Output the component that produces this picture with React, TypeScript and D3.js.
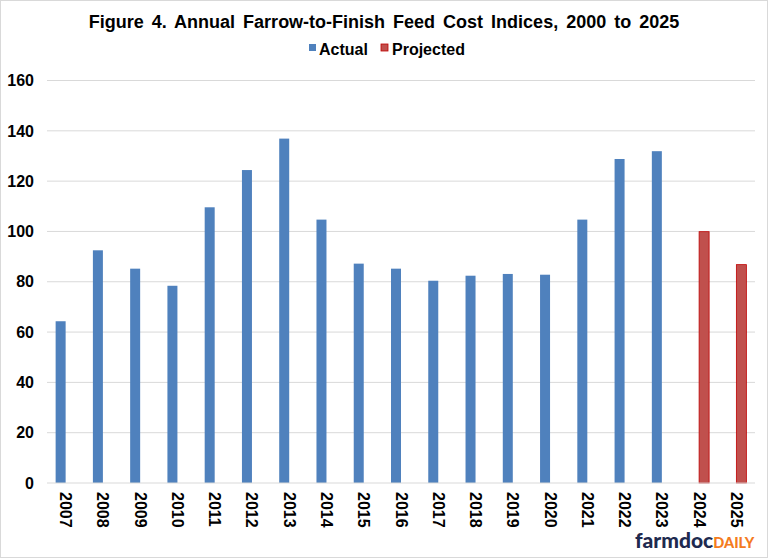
import React from "react";
import * as d3 from "d3";

const years = ["2007","2008","2009","2010","2011","2012","2013","2014","2015","2016","2017","2018","2019","2020","2021","2022","2023","2024","2025"];
const seriesNames = ["Actual", "Projected"];
const actual: (number | null)[] = [64.3,92.5,85.2,78.4,109.6,124.4,136.9,104.7,87.2,85.2,80.4,82.4,83.1,82.8,104.7,128.8,131.9,null,null];
const projected: (number | null)[] = [null,null,null,null,null,null,null,null,null,null,null,null,null,null,null,null,null,99.9,86.8];
const yTicks = [0,20,40,60,80,100,120,140,160];
const colors = ["#4F81BD", "#C0504D"];
const strokes = ["#4F81BD", "#C00000"];

const W = 768, H = 558;
const M = { left: 47, right: 755, top: 80.5, bottom: 483 };

export default function App() {
  const x = d3.scaleBand<string>().domain(years).range([M.left, M.right]).padding(0);
  const xs = d3.scaleBand<string>().domain(seriesNames).range([0, x.bandwidth()]).paddingInner(0).paddingOuter(0.863);
  const y = d3.scaleLinear().domain([0, 160]).range([M.bottom, M.top]);
  const series = [actual, projected];
  const narrow = "'Liberation Sans Narrow', 'Arial Narrow', 'Liberation Sans', Arial, sans-serif";
  const sans = "'Liberation Sans', Arial, sans-serif";
  return (
    <svg width={W} height={H} style={{ position: "absolute", left: 0, top: 0, background: "#fff" }}>
      <rect x={0.5} y={0.5} width={W - 1} height={H - 1} fill="#fff" stroke="#d9d9d9" />
      <text x={384} y={28} textAnchor="middle" fontFamily={narrow} fontWeight="bold" fontSize={18} fill="#000" wordSpacing="3">
        Figure 4.  Annual Farrow-to-Finish Feed Cost Indices, 2000 to 2025
      </text>
      {/* legend */}
      <g fontFamily={narrow} fontWeight="bold" fontSize={16} fill="#000">
        <rect x={309} y={44} width={7} height={7} fill={colors[0]} />
        <text x={319} y={55}>Actual</text>
        <rect x={381} y={44} width={7} height={7} fill={colors[1]} stroke={strokes[1]} strokeWidth={0.8} />
        <text x={392} y={55}>Projected</text>
      </g>
      {/* grid */}
      {yTicks.map(t => (
        <g key={t}>
          {t > 0 && <line x1={M.left} x2={M.right} y1={y(t)} y2={y(t)} stroke="#d9d9d9" strokeWidth={1} />}
          <text x={34} y={y(t) + 5.7} textAnchor="end" fontFamily={sans} fontWeight="bold" fontSize={16} fill="#000">{t}</text>
        </g>
      ))}
      {/* bars */}
      {series.map((vals, si) => vals.map((v, i) => v == null ? null : (
        <rect key={si + "-" + i}
          x={(x(years[i]) as number) + (xs(seriesNames[si]) as number)}
          y={y(v)} width={xs.bandwidth()} height={y(0) - y(v)}
          fill={colors[si]} stroke={si === 1 ? strokes[1] : "none"} strokeWidth={si === 1 ? 0.8 : 0} />
      )))}
      <line x1={M.left} x2={M.right} y1={y(0)} y2={y(0)} stroke="#d9d9d9" strokeWidth={1} />
      {/* x labels */}
      {years.map(yr => {
        const cx = (x(yr) as number) + x.bandwidth() / 2;
        return (
          <text key={yr} transform={`translate(${cx - 5.5},492) rotate(90)`} fontFamily={sans} fontWeight="bold" fontSize={16} fill="#000">{yr}</text>
        );
      })}
      {/* logo */}
      <text x={635} y={548} fontFamily="Lato, 'Liberation Sans', sans-serif" fontWeight="900" fontSize={21} fill="#1e2a4f">
        farmdoc<tspan fill="#F47B20" fontSize={14.5}>DAILY</tspan>
      </text>
    </svg>
  );
}
